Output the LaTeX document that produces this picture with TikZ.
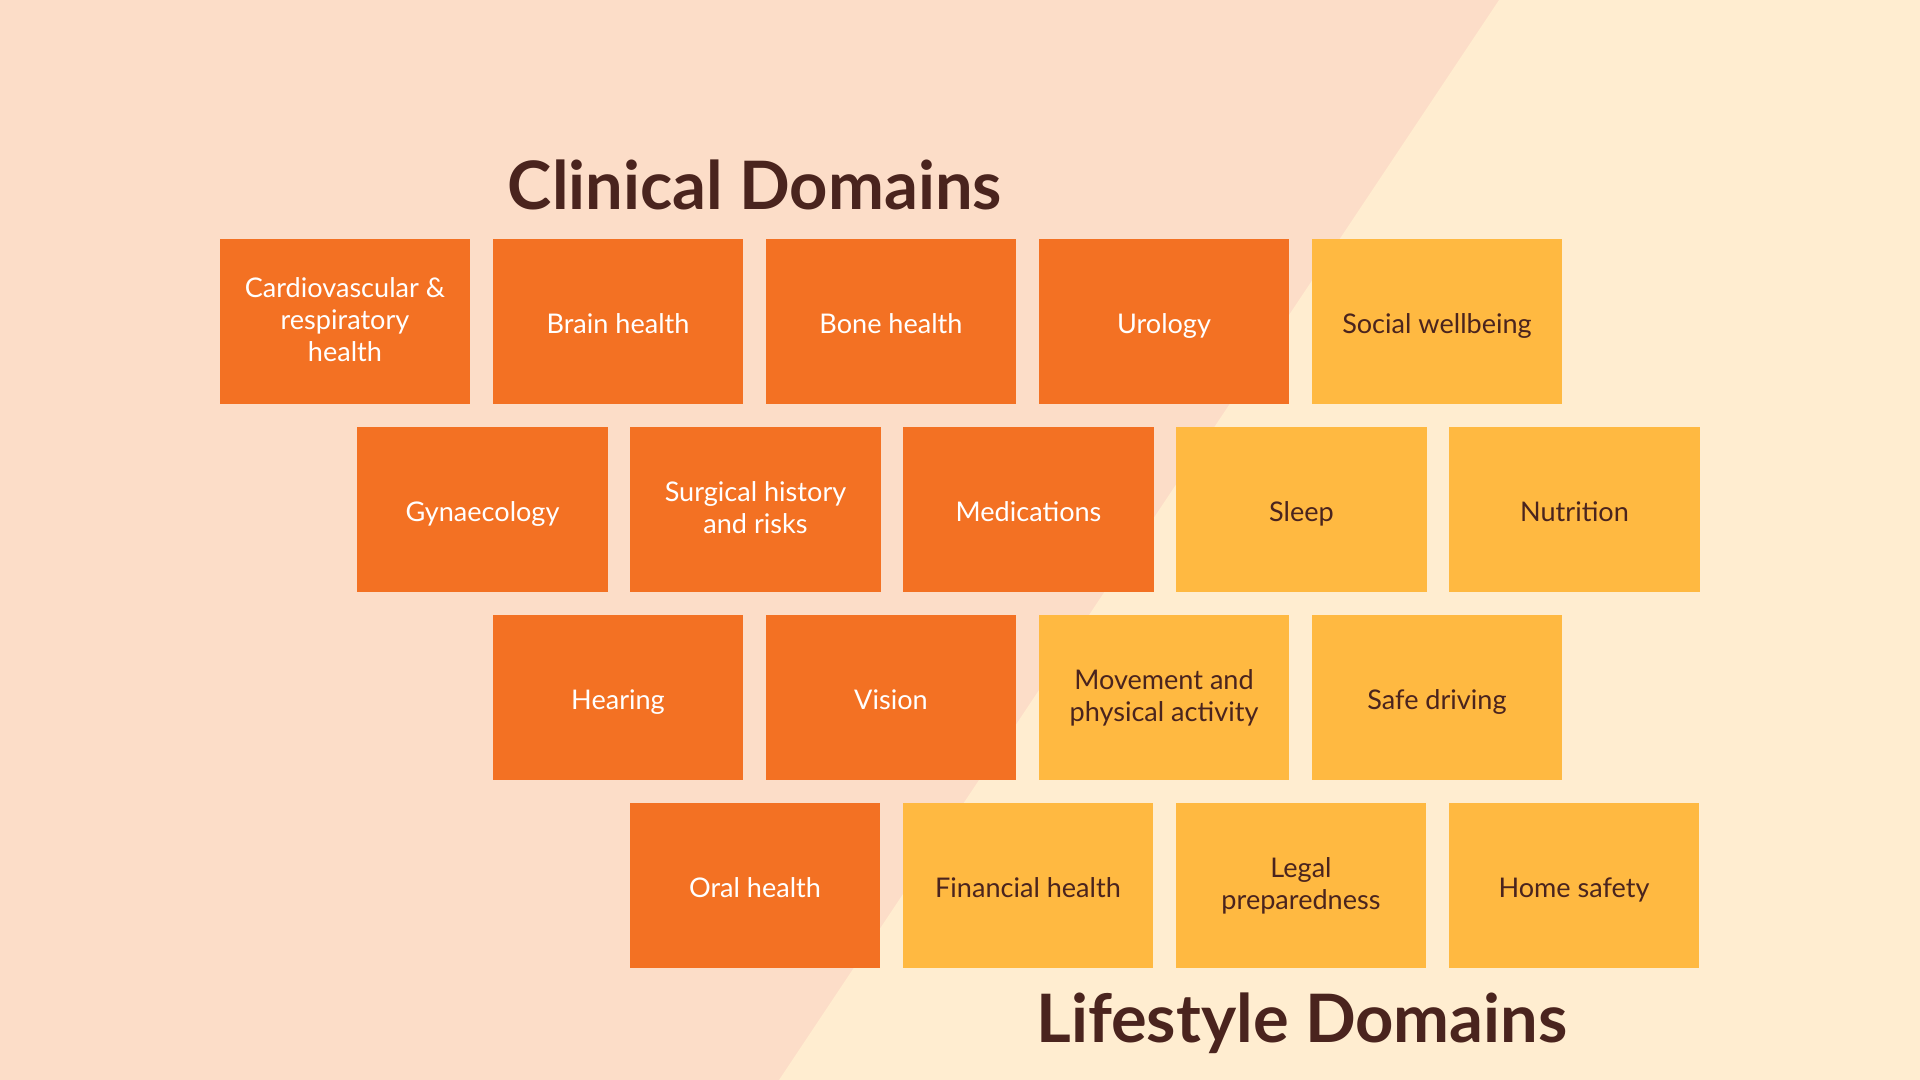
\documentclass[tikz,border=0pt]{standalone}
\usepackage{fontspec}
\setmainfont{Lato}
\usepackage{tikz}
\usetikzlibrary{positioning}
\definecolor{bgpeach}{RGB}{252,221,200}
\definecolor{bgcream}{RGB}{255,237,208}
\definecolor{clinorange}{RGB}{243,113,35}
\definecolor{lifeyellow}{RGB}{255,185,65}
\definecolor{darkbrown}{RGB}{74,36,30}
\newcommand{\boxstrut}{\rule[-1.2pt]{0pt}{9.5pt}}
\tikzset{
  clinbox/.style={rectangle, fill=clinorange, text=white, minimum width=2.5cm, minimum height=1.65cm, inner sep=0pt, align=center, font=\fontsize{7.7}{9.1}\selectfont, execute at begin node=\boxstrut, execute at end node=\boxstrut},
  lifebox/.style={clinbox, fill=lifeyellow, text=darkbrown},
  heading/.style={text=darkbrown, font=\fontsize{19}{21}\selectfont\bfseries, inner sep=0pt}
}

\begin{document}
\begin{tikzpicture}[x=0.01cm, y=-0.01cm]
  % Background split
  \fill[bgpeach] (0,0) rectangle (1920,1080);
  \fill[bgcream] (1499,0) -- (1920,0) -- (1920,1080) -- (779,1080) -- cycle;
  \useasboundingbox (0,0) rectangle (1920,1080);

  % Row 1
  \node[clinbox] (cardio) at (345,321.5) {Cardiovascular \&\\respiratory\\health};
  \node[clinbox] (brain) at (618,321.5) {Brain health};
  \node[clinbox] (bone) at (891,321.5) {Bone health};
  \node[clinbox] (urology) at (1164,321.5) {Urology};
  \node[lifebox] (social) at (1437,321.5) {Social wellbeing};

  % Row 2
  \node[clinbox] (gynae) at (482.5,509.5) {Gynaecology};
  \node[clinbox] (surgical) at (755.5,509.5) {Surgical history\\and risks};
  \node[clinbox] (meds) at (1028.5,509.5) {Medications};
  \node[lifebox] (sleep) at (1301.5,509.5) {Sleep};
  \node[lifebox] (nutrition) at (1574.5,509.5) {Nutrition};

  % Row 3
  \node[clinbox] (hearing) at (618,697.5) {Hearing};
  \node[clinbox] (vision) at (891,697.5) {Vision};
  \node[lifebox] (movement) at (1164,697.5) {Movement and\\physical activity};
  \node[lifebox] (driving) at (1437,697.5) {Safe driving};

  % Row 4
  \node[clinbox] (oral) at (755,885.5) {Oral health};
  \node[lifebox] (financial) at (1028,885.5) {Financial health};
  \node[lifebox] (legal) at (1301,885.5) {Legal\\preparedness};
  \node[lifebox] (homesafe) at (1574,885.5) {Home safety};

  % Titles
  \node[heading, anchor=base] (clinical) at (755,210) {Clinical Domains};
  \node[heading, anchor=base] (lifestyle) at (1302,1043) {Lifestyle Domains};
\end{tikzpicture}
\end{document}
